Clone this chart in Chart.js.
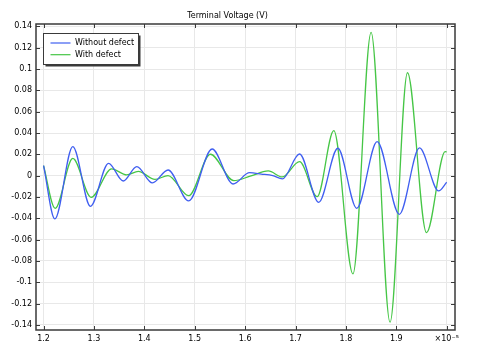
<!DOCTYPE html>
<html>
<head>
<meta charset="utf-8">
<script src="https://cdn.jsdelivr.net/npm/chart.js@4"></script>
<style>
	body { margin: 0; background: #ffffff; }
	#wrap { width: 478px; height: 345px; }
</style>
</head>
<body>
<div id="wrap"><canvas id="voltage" width="478" height="345"></canvas></div>
<script>
// VARIABLES ================================================

const titleText = "Terminal Voltage (V)";
const seriesNames = ["Without defect", "With defect"];

// time is in units of 1e-5 s, voltage in V
const timeWithout = [1.2, 1.2224, 1.258, 1.293, 1.329, 1.358, 1.385, 1.416, 1.447, 1.488, 1.5345, 1.576, 1.609, 1.632, 1.655, 1.674, 1.708, 1.746, 1.784, 1.8216, 1.862, 1.906, 1.946, 1.984, 2.0];
const voltageWithout = [0.0094, -0.0406, 0.0272, -0.0287, 0.0116, -0.005, 0.0084, -0.0068, 0.0053, -0.0237, 0.025, -0.0078, 0.0028, 0.0015, 0.0, -0.003, 0.0203, -0.025, 0.0257, -0.0306, 0.0319, -0.0362, 0.026, -0.0143, -0.0062];

const timeWith = [1.2, 1.223, 1.258, 1.2945, 1.335, 1.365, 1.388, 1.421, 1.447, 1.488, 1.531, 1.5775, 1.61, 1.646, 1.6735, 1.708, 1.743, 1.776, 1.814, 1.85, 1.8876, 1.9222, 1.96, 1.997, 2.0];
const voltageWith = [0.0094, -0.0306, 0.0162, -0.0203, 0.0064, 0.0007, 0.004, -0.0035, 0.0001, -0.0188, 0.0201, -0.0047, -0.0005, 0.0044, -0.0012, 0.0131, -0.0197, 0.0422, -0.0921, 0.1344, -0.1374, 0.0965, -0.0534, 0.0225, 0.0222];

const xTicks = [1.2, 1.3, 1.4, 1.5, 1.6, 1.7, 1.8, 1.9, 2.0];
const xTickLabels = ["1.2", "1.3", "1.4", "1.5", "1.6", "1.7", "1.8", "1.9", "×10⁻⁵"];
const yTicks = [-0.14, -0.12, -0.1, -0.08, -0.06, -0.04, -0.02, 0, 0.02, 0.04, 0.06, 0.08, 0.1, 0.12, 0.14];
const yTickLabels = ["-0.14", "-0.12", "-0.1", "-0.08", "-0.06", "-0.04", "-0.02", "0", "0.02", "0.04", "0.06", "0.08", "0.1", "0.12", "0.14"];

let voltageChart = {
	initialise: undefined,
	toPoints: undefined,
	framePlugin: undefined,
	chart: undefined,
};

// FUNCTIONS ================================================

voltageChart.toPoints = function (xs, ys) {
	let points = [];
	for (let i = 0; i < xs.length; i++) {
		points.push({ x: xs[i], y: ys[i] });
	}
	return points;
};

// box round the plot, inward tick marks and the boxed legend
voltageChart.framePlugin = {
	id: "frame",
	afterDraw: function (chart) {
		const ctx = chart.ctx;
		const area = chart.chartArea;
		const xScale = chart.scales.x;
		const yScale = chart.scales.y;
		ctx.save();
		ctx.strokeStyle = "#3a3a3a";
		ctx.lineWidth = 1;
		ctx.beginPath();
		for (let i = 0; i < xTicks.length; i++) {
			const px = Math.round(xScale.getPixelForValue(xTicks[i])) + 0.5;
			ctx.moveTo(px, area.top);
			ctx.lineTo(px, area.top + 4);
			ctx.moveTo(px, area.bottom);
			ctx.lineTo(px, area.bottom - 4);
		}
		for (let i = 0; i < yTicks.length; i++) {
			const py = Math.round(yScale.getPixelForValue(yTicks[i])) + 0.5;
			ctx.moveTo(area.left, py);
			ctx.lineTo(area.left + 4, py);
			ctx.moveTo(area.right, py);
			ctx.lineTo(area.right - 4, py);
		}
		ctx.stroke();
		ctx.lineWidth = 1.5;
		ctx.strokeRect(area.left, area.top, area.right - area.left, area.bottom - area.top);

		// legend
		const lx = area.left + 7.5;
		const ly = area.top + 9.5;
		const lw = 95;
		const lh = 31;
		ctx.fillStyle = "#3a3a3a";
		ctx.fillRect(lx + 2, ly + 2, lw, lh);
		ctx.fillStyle = "#ffffff";
		ctx.fillRect(lx, ly, lw, lh);
		ctx.lineWidth = 1;
		ctx.strokeStyle = "#3a3a3a";
		ctx.strokeRect(lx, ly, lw, lh);
		ctx.font = "8px 'DejaVu Sans'";
		ctx.textBaseline = "middle";
		ctx.textAlign = "left";
		const datasets = chart.data.datasets;
		for (let i = 0; i < datasets.length; i++) {
			const rowY = ly + 9.5 + i * 11.7;
			ctx.strokeStyle = datasets[i].borderColor;
			ctx.lineWidth = 1.2;
			ctx.beginPath();
			ctx.moveTo(lx + 7, rowY);
			ctx.lineTo(lx + 27, rowY);
			ctx.stroke();
			ctx.fillStyle = "#000000";
			ctx.fillText(datasets[i].label, lx + 31.5, rowY);
		}
		ctx.restore();
	},
};

voltageChart.initialise = function () {
	const data = {
		datasets: [
			{
				label: seriesNames[0],
				data: voltageChart.toPoints(timeWithout, voltageWithout),
				borderColor: "#3f5ef0",
				borderWidth: 1.3,
				pointRadius: 0,
				cubicInterpolationMode: "monotone",
			},
			{
				label: seriesNames[1],
				data: voltageChart.toPoints(timeWith, voltageWith),
				borderColor: "#46c646",
				borderWidth: 1.3,
				pointRadius: 0,
				cubicInterpolationMode: "monotone",
			},
		],
	};
	const config = {
		type: "line",
		data: data,
		plugins: [voltageChart.framePlugin],
		options: {
			responsive: false,
			animation: false,
			devicePixelRatio: 1,
			layout: { padding: { top: 0, right: 23, bottom: 0, left: 0 } },
			plugins: {
				legend: { display: false },
				tooltip: { enabled: false },
				title: {
					display: true,
					text: titleText,
					color: "#000000",
					font: { family: "DejaVu Sans", size: 8, weight: "normal", lineHeight: 1.2 },
					padding: { top: 11.5, bottom: 2.9 },
				},
			},
			scales: {
				x: {
					type: "linear",
					min: 1.185,
					max: 2.0165,
					afterBuildTicks: function (scale) {
						scale.ticks = xTicks.map((v) => ({ value: v }));
					},
					afterFit: function (scale) {
						scale.height = 15;
					},
					ticks: {
						autoSkip: false,
						maxRotation: 0,
						padding: 4,
						color: "#000000",
						font: { family: "DejaVu Sans", size: 8 },
						callback: function (value) {
							const i = xTicks.findIndex((t) => Math.abs(t - value) < 1e-6);
							return i >= 0 ? xTickLabels[i] : "";
						},
					},
					grid: { color: "#e8e8e8", lineWidth: 1, drawTicks: false },
					border: { display: false },
				},
				y: {
					type: "linear",
					min: -0.1447,
					max: 0.1422,
					afterBuildTicks: function (scale) {
						scale.ticks = yTicks.map((v) => ({ value: v }));
					},
					afterFit: function (scale) {
						scale.width = 36;
					},
					ticks: {
						autoSkip: false,
						padding: 4,
						color: "#000000",
						font: { family: "DejaVu Sans", size: 8 },
						callback: function (value) {
							const i = yTicks.findIndex((t) => Math.abs(t - value) < 1e-6);
							return i >= 0 ? yTickLabels[i] : "";
						},
					},
					grid: { color: "#e8e8e8", lineWidth: 1, drawTicks: false },
					border: { display: false },
				},
			},
		},
	};
	voltageChart.chart = new Chart(document.getElementById("voltage"), config);
	return;
};

voltageChart.initialise();

// END ======================================================
</script>
</body>
</html>
